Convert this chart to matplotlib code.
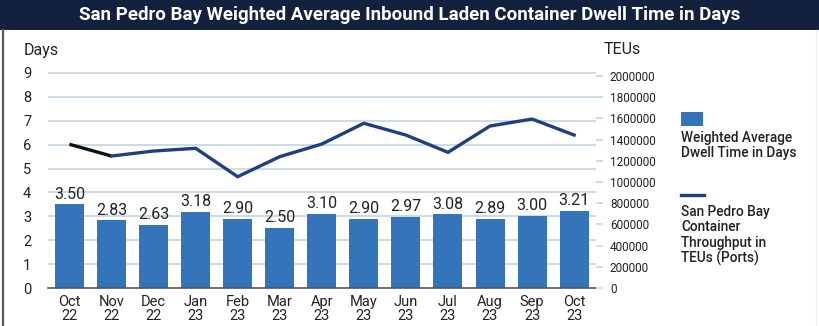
import matplotlib
matplotlib.use("Agg")
import matplotlib.pyplot as plt
from matplotlib.patches import Rectangle
from matplotlib.lines import Line2D
import numpy as np

months = ["Oct\n22", "Nov\n22", "Dec\n22", "Jan\n23", "Feb\n23", "Mar\n23", "Apr\n23",
          "May\n23", "Jun\n23", "Jul\n23", "Aug\n23", "Sep\n23", "Oct\n23"]
dwell_days = [3.50, 2.83, 2.63, 3.18, 2.90, 2.50, 3.10, 2.90, 2.97, 3.08, 2.89, 3.00, 3.21]
teus = [1356000, 1245000, 1292000, 1318000, 1050000, 1239000, 1358000,
        1554000, 1443000, 1280000, 1528000, 1594000, 1443000]
days_ticks = [0, 1, 2, 3, 4, 5, 6, 7, 8, 9]
teu_ticks = [0, 200000, 400000, 600000, 800000, 1000000, 1200000, 1400000,
             1600000, 1800000, 2000000]

BAR = "#3474bb"
NAVY = "#203f7e"
HEADER = "#13213f"
GRID = "#c9dcea"
TXT = "#222222"

cond = ["Liberation Sans Narrow", "Roboto", "DejaVu Sans"]
plain = ["Roboto", "DejaVu Sans"]

fig = plt.figure(figsize=(8.19, 3.26), dpi=100)
W, H = 819, 326

# header band
fig.patches.append(Rectangle((0, 1 - 30 / H), 1, 30 / H, transform=fig.transFigure,
                             facecolor=HEADER, edgecolor="none", zorder=0))
fig.text(0.5, 1 - 15.5 / H, "San Pedro Bay Weighted Average Inbound Laden Container Dwell Time in Days",
         ha="center", va="center", color="white", fontsize=13.5, fontweight="bold", family=cond)
# frame sides
fig.add_artist(Line2D([2.5 / W, 2.5 / W], [0, 1 - 30 / H], transform=fig.transFigure,
                      color="#555a66", lw=1.6))
fig.add_artist(Line2D([815.5 / W, 815.5 / W], [0, 1 - 30 / H], transform=fig.transFigure,
                      color="#eeeeee", lw=1.0))

left, right = 48 / W, 596 / W
bottom = 38 / H
top_lim = 9.3
px_per_day = 215 / 9
ax_h = top_lim * px_per_day / H
ax = fig.add_axes([left, bottom, right - left, ax_h])

x = np.arange(len(months))
ax.bar(x, dwell_days, width=0.69, color=BAR, zorder=2)
for xi, v in zip(x, dwell_days):
    ax.text(xi, v + 0.12, f"{v:.2f}", ha="center", va="bottom", fontsize=11.5,
            color=TXT, family=plain)

ax.set_xlim(-0.51, len(months) - 1 + 0.52)
ax.set_ylim(0, top_lim)
ax.set_yticks(days_ticks)
ax.set_yticklabels([str(t) for t in days_ticks], family=cond, fontsize=10.5, color=TXT)
ax.set_xticks(x)
ax.set_xticklabels(months, family=cond, fontsize=10.5, color=TXT, linespacing=1.0)
ax.tick_params(axis="both", length=0, pad=5)
ax.tick_params(axis="y", pad=12)
for t in days_ticks[1:]:
    ax.axhline(t, color=GRID, lw=1.4, zorder=1)
for s in ["top", "right", "left"]:
    ax.spines[s].set_visible(False)
ax.spines["bottom"].set_color("#555555")
ax.spines["bottom"].set_linewidth(1.2)
ax.spines["bottom"].set_zorder(3)

ax2 = ax.twinx()
teu_top = 2000000 * top_lim / (9 * 212 / 215)
ax2.set_ylim(0, teu_top)
ax2.plot(x[:2], teus[:2], color="#111111", lw=2.4, zorder=4, solid_capstyle="butt")
ax2.plot(x[1:], teus[1:], color=NAVY, lw=2.4, zorder=4, solid_joinstyle="miter")
ax2.set_yticks(teu_ticks)
ax2.set_yticklabels([str(t) for t in teu_ticks], family=plain, fontsize=8.5, color=TXT)
ax2.tick_params(axis="y", length=5, color=GRID, width=1.3, pad=5)
for s in ["top", "right", "left", "bottom"]:
    ax2.spines[s].set_visible(False)

fig.text(24 / W, 1 - 50 / H, "Days", ha="left", va="center", fontsize=11.5,
         color=TXT, family=cond)
fig.text(604 / W, 1 - 50 / H, "TEUs", ha="left", va="center", fontsize=11.5,
         color=TXT, family=cond)

# legend
fig.patches.append(Rectangle((681 / W, 1 - 126 / H), 22 / W, 14 / H, transform=fig.transFigure,
                             facecolor=BAR, edgecolor="none"))
fig.text(681 / W, 1 - 131 / H, "Weighted Average\nDwell Time in Days", ha="left", va="top",
         fontsize=9.8, color=TXT, family=plain, fontweight="medium", linespacing=1.12)
fig.add_artist(Line2D([681 / W, 704 / W], [1 - 195 / H, 1 - 195 / H], transform=fig.transFigure,
                      color=NAVY, lw=2.4))
fig.text(681 / W, 1 - 205 / H, "San Pedro Bay\nContainer\nThroughput in\nTEUs (Ports)",
         ha="left", va="top", fontsize=9.8, color=TXT, family=plain, fontweight="medium",
         linespacing=1.12)

fig.savefig("out.png", dpi=100)
